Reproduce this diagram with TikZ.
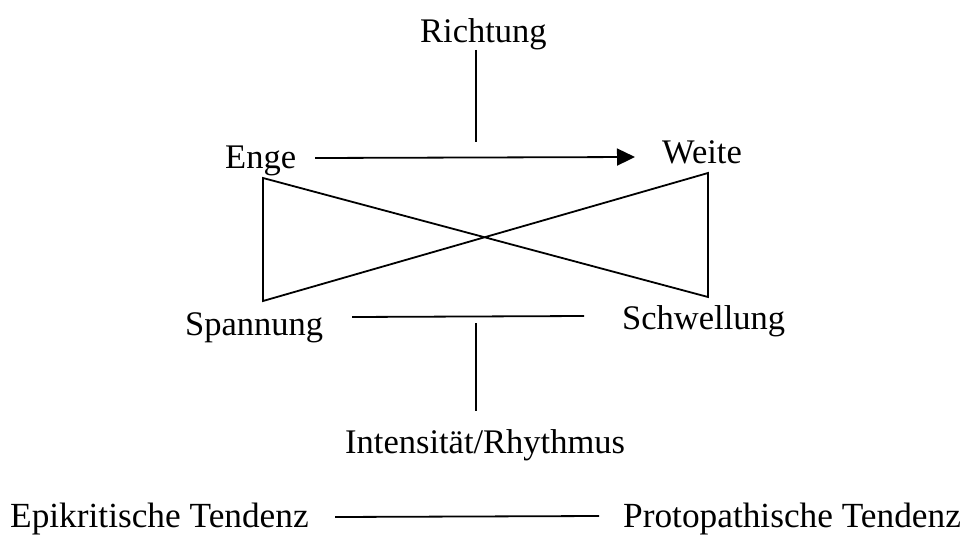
\documentclass[tikz,border=0pt]{standalone}
\usepackage{fontspec}
\setmainfont{Liberation Serif}
\usetikzlibrary{arrows.meta}
\begin{document}
\begin{tikzpicture}[x=1pt,y=-1pt,
  lbl/.style={inner sep=0pt,anchor=base west,font=\fontsize{34.5}{40}\selectfont},
  lblb/.style={lbl,font=\fontsize{35.3}{40}\selectfont},
  ln/.style={line width=1.8pt,black}]
\useasboundingbox (0,0) rectangle (963,535);
% labels
\node[lbl] (richtung) at (420,43) {Richtung};
\node[lbl] (enge) at (225,168) {Enge};
\node[lbl] (weite) at (662,163) {Weite};
\node[lbl] (spannung) at (185,335) {Spannung};
\node[lbl] (schwellung) at (622,329) {Schwellung};
\node[lbl] (intens) at (345,453) {Intensität/Rhythmus};
\node[lblb] (epi) at (10,527) {Epikritische Tendenz};
\node[lblb] (proto) at (623,527) {Protopathische Tendenz};
% connector end points
\coordinate (r1) at (476,50);
\coordinate (r2) at (476,142);
\coordinate (a1) at (315,158);
\coordinate (a2) at (635,157);
\coordinate (tl) at (263,178);
\coordinate (bl) at (263,301);
\coordinate (tr) at (708,173);
\coordinate (br) at (708,297);
\coordinate (s1) at (352,317);
\coordinate (s2) at (584,316);
\coordinate (v1) at (476,323);
\coordinate (v2) at (476,411);
\coordinate (e1) at (335,517);
\coordinate (e2) at (599,516);
% connectors
\draw[ln] (r1) -- (r2);
\draw[ln,-{Triangle[length=18pt,width=17pt]}] (a1) -- (a2);
\draw[ln,line join=miter] (tl) -- (bl) -- (tr) -- (br) -- cycle;
\draw[ln] (s1) -- (s2);
\draw[ln] (v1) -- (v2);
\draw[ln] (e1) -- (e2);
\end{tikzpicture}
\end{document}
